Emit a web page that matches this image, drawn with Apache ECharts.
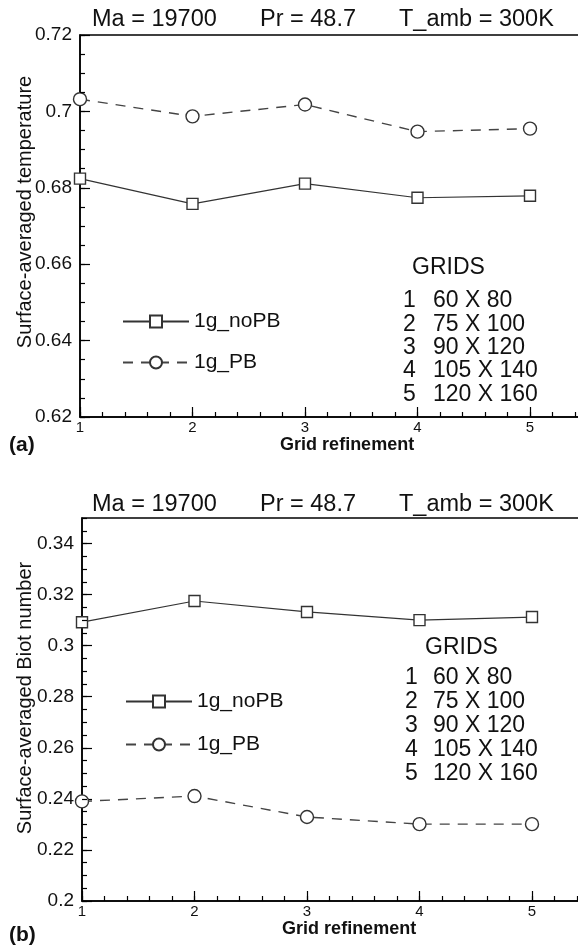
<!DOCTYPE html>
<html><head><meta charset="utf-8">
<script src="https://cdn.jsdelivr.net/npm/echarts@6/dist/echarts.min.js"></script>
<style>html,body{margin:0;padding:0;background:#fff}#c{width:578px;height:947px}</style>
</head><body><div id="c"></div>
<script>
// ---- data ----
const gridSteps = [1, 2, 3, 4, 5];
const tempNoPB = [0.6824, 0.6758, 0.6811, 0.6774, 0.6779];
const tempPB   = [0.7032, 0.6987, 0.7018, 0.6947, 0.6955];
const biotNoPB = [0.3092, 0.3175, 0.3132, 0.3100, 0.3112];
const biotPB   = [0.2390, 0.2411, 0.2329, 0.2301, 0.2301];
const seriesNames = ['1g_noPB', '1g_PB'];
const titleParts = ['Ma = 19700', 'Pr = 48.7', 'T_amb = 300K'];
const gridIds = ['1', '2', '3', '4', '5'];
const gridSizes = ['60 X 80', '75 X 100', '90 X 120', '105 X 140', '120 X 160'];
const tempAxis = [0.62, 0.72];
const biotAxis = [0.2, 0.35];
const yNames = ['Surface-averaged temperature', 'Surface-averaged Biot number'];
const xName = 'Grid refinement';
const panelTags = ['(a)', '(b)'];

// ---- layout ----
const FONT = '"Liberation Sans", Arial, Helvetica, sans-serif';
const INK = '#111';
const panels = [
  { top: 35, height: 382, left: 80, yr: tempAxis, data: [tempNoPB, tempPB], titleY: 20,
    yNameY: 212,
    legendLeft: 122, legendTop: 311, legendGap: 20,
    gridsHeadX: 412, gridsHeadY: 268, idX: 403, sizeX: 433, rowY0: 301, rowStep: 23.3, tagY: 445 },
  { top: 518, height: 383, left: 82, yr: biotAxis, data: [biotNoPB, biotPB], titleY: 505,
    yNameY: 698,
    legendLeft: 125, legendTop: 691, legendGap: 22,
    gridsHeadX: 425, gridsHeadY: 648, idX: 405, sizeX: 433, rowY0: 678, rowStep: 23.8, tagY: 935 }
];
const xMin = 1, xMax = 5.5, unitPx = 112.5;

const grid = [], xAxis = [], yAxis = [], series = [], legend = [], graphic = [];
panels.forEach((p, k) => {
  grid.push({ left: p.left, top: p.top, width: (xMax - xMin) * unitPx, height: p.height,
    show: true, borderColor: '#000', borderWidth: 1.5, backgroundColor: 'transparent',
    outerBoundsMode: 'none', containLabel: false });
  const tickStyle = { color: '#000', width: 1.2 };
  const hiddenLine = { show: true, onZero: false, lineStyle: { color: '#000', opacity: 0, width: 1 } };
  xAxis.push({ gridIndex: k, type: 'value', min: xMin, max: xMax, interval: 1, position: 'bottom',
    axisLine: { show: true, onZero: false, lineStyle: { color: '#000', width: 1.5 } },
    axisTick: { show: true, inside: true, length: 10, lineStyle: tickStyle },
    axisLabel: { fontSize: 15, color: INK, margin: 3, showMaxLabel: false, fontFamily: FONT },
    splitLine: { show: false },
    name: xName, nameLocation: 'middle', nameGap: 13,
    nameTextStyle: { fontSize: 18, fontWeight: 'bold', color: INK, fontFamily: FONT, padding: [0, 0, 0, 28] } });
  xAxis.push({ gridIndex: k, type: 'value', min: xMin, max: xMax, interval: 0.2, position: 'bottom',
    axisLine: hiddenLine, axisTick: { show: true, inside: true, length: 5, lineStyle: tickStyle },
    axisLabel: { show: false }, splitLine: { show: false }, z: 5 });
  yAxis.push({ gridIndex: k, type: 'value', min: p.yr[0], max: p.yr[1], interval: 0.02, position: 'left',
    axisLine: { show: true, onZero: false, lineStyle: { color: '#000', width: 1.5 } },
    axisTick: { show: true, inside: true, length: 10, lineStyle: tickStyle },
    axisLabel: { fontSize: 19, color: INK, margin: 8, fontFamily: FONT, showMaxLabel: k === 0 },
    splitLine: { show: false } });
  yAxis.push({ gridIndex: k, type: 'value', min: p.yr[0], max: p.yr[1], interval: 0.005, position: 'left',
    axisLine: hiddenLine, axisTick: { show: true, inside: true, length: 5, lineStyle: tickStyle },
    axisLabel: { show: false }, splitLine: { show: false }, z: 5 });

  const styles = [
    { symbol: 'rect', symbolSize: 11, line: { color: '#333', width: 1.2, type: 'solid' } },
    { symbol: 'circle', symbolSize: 13, line: { color: '#444', width: 1.4, type: [10, 8] } }
  ];
  seriesNames.forEach((nm, s) => {
    series.push({ type: 'line', name: nm, xAxisIndex: 2 * k, yAxisIndex: 2 * k,
      data: gridSteps.map((x, i) => [x, p.data[s][i]]),
      symbol: styles[s].symbol, symbolSize: styles[s].symbolSize, showAllSymbol: true,
      itemStyle: { color: '#fff', borderColor: '#333', borderWidth: 1.4 },
      lineStyle: styles[s].line, animation: false, z: 3 });
  });

  legend.push({ orient: 'vertical', left: p.legendLeft, top: p.legendTop, itemWidth: 66, itemHeight: 15,
    itemGap: p.legendGap, data: seriesNames, selectedMode: false, padding: 0,
    textStyle: { fontSize: 21, color: INK, fontFamily: FONT, lineHeight: 21 } });

  titleParts.forEach((t, i) => {
    graphic.push({ type: 'text', x: [92, 260, 399][i], y: p.titleY,
      style: { text: t, fontSize: 23.5, fontFamily: FONT, fill: INK, align: 'left', verticalAlign: 'middle' } });
  });
  graphic.push({ type: 'text', x: 25, y: p.yNameY, rotation: Math.PI / 2,
    style: { text: yNames[k], fontSize: 20, fontFamily: FONT, fill: INK, align: 'center', verticalAlign: 'middle' } });
  graphic.push({ type: 'text', x: p.gridsHeadX, y: p.gridsHeadY,
    style: { text: 'GRIDS', fontSize: 23, fontFamily: FONT, fill: INK, verticalAlign: 'middle' } });
  gridIds.forEach((id, i) => {
    graphic.push({ type: 'text', x: p.idX, y: p.rowY0 + i * p.rowStep,
      style: { text: id, fontSize: 23, fontFamily: FONT, fill: INK, verticalAlign: 'middle' } });
    graphic.push({ type: 'text', x: p.sizeX, y: p.rowY0 + i * p.rowStep,
      style: { text: gridSizes[i], fontSize: 23, fontFamily: FONT, fill: INK, verticalAlign: 'middle' } });
  });
  graphic.push({ type: 'text', x: 9, y: p.tagY,
    style: { text: panelTags[k], fontSize: 21, fontWeight: 'bold', fontFamily: FONT, fill: INK, verticalAlign: 'middle' } });
});

const chart = echarts.init(document.getElementById('c'));
chart.setOption({ animation: false, backgroundColor: '#fff', grid, xAxis, yAxis, series, legend, graphic });
</script></body></html>
